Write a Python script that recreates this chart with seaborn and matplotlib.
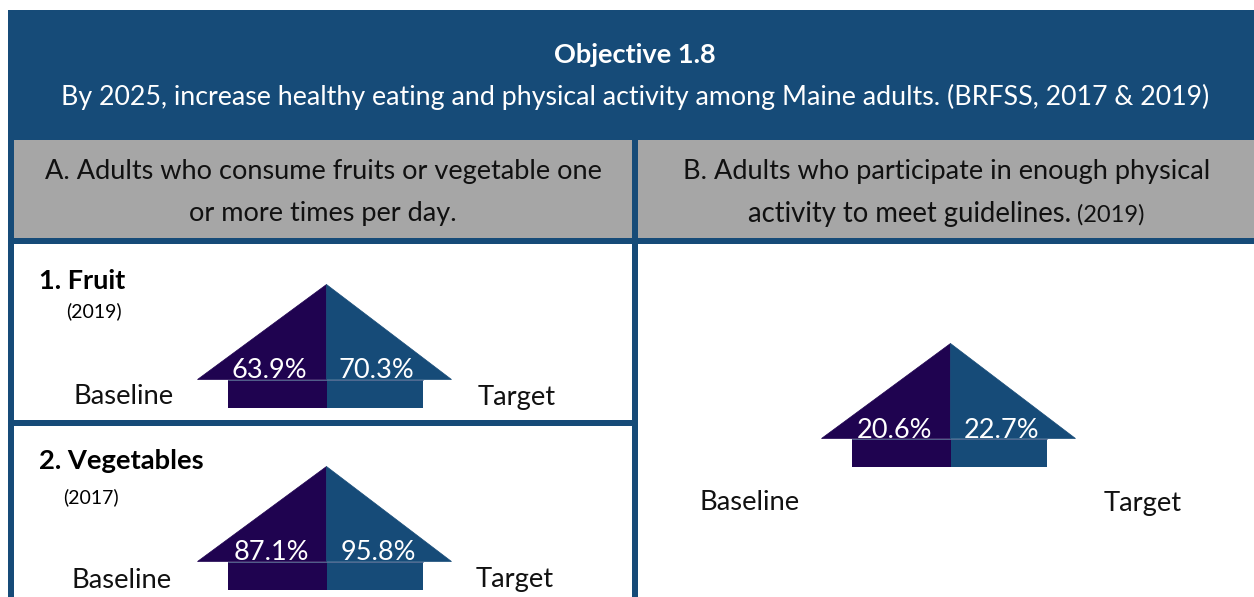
import matplotlib
matplotlib.use("Agg")
import matplotlib.pyplot as plt
from matplotlib.patches import Rectangle
import seaborn as sns

objective = "Objective 1.8"
subtitle = "By 2025, increase healthy eating and physical activity among Maine adults. (BRFSS, 2017 & 2019)"
panel_names = ["1. Fruit", "2. Vegetables"]
panel_years = ["(2019)", "(2017)"]
baseline_vals = [63.9, 87.1, 20.6]
target_vals = [70.3, 95.8, 22.7]

navy = "#164b78"
purple = "#1f0350"
gray = "#a6a6a6"
ink = "#111111"
big = 19.5

sns.set_theme(style="white")
plt.rcParams["font.family"] = ["Lato", "DejaVu Sans"]

fig, ax = plt.subplots(figsize=(12.54, 5.97), dpi=100)
ax.set_position([0, 0, 1, 1])
ax.set_xlim(0, 1254)
ax.set_ylim(597, 0)
ax.axis("off")


def box(x0, y0, x1, y1, color):
    ax.add_patch(Rectangle((x0, y0), x1 - x0, y1 - y0, color=color, lw=0))


def house(cx, top, base, base_val, targ_val, shift=0):
    # roof then body, left half purple, right half blue
    ax.fill([cx, cx, cx - 129], [top, base, base], color=purple, lw=0.5)
    ax.fill([cx, cx, cx + 125], [top, base, base], color=navy, lw=0.5)
    box(cx - 98, base + 1, cx + 1, base + 29, purple)
    box(cx + 1, base + 1, cx + 97, base + 29, navy)
    ax.plot([cx - 98, cx + 97], [base + 0.5, base + 0.5], color="#5a6f96", lw=0.6)
    ax.text(cx - 57 + shift, base - 8, f"{base_val}%", color="white", fontsize=big, ha="center", va="center")
    ax.text(cx + 50 + shift, base - 8, f"{targ_val}%", color="white", fontsize=big, ha="center", va="center")


# frame
box(8, 10, 1254, 597, navy)
box(14, 140, 632, 238, gray)
box(638, 140, 1254, 238, gray)
box(14, 244, 632, 420, "white")
box(14, 426, 632, 597, "white")
box(638, 244, 1254, 597, "white")

ax.text(635, 55, objective, color="white", fontsize=big, fontweight="bold", ha="center", va="center")
ax.text(635, 97, subtitle, color="white", fontsize=19.3, ha="center", va="center")

ax.text(323, 171, "A. Adults who consume fruits or vegetable one", color=ink, fontsize=big, ha="center", va="center")
ax.text(323, 214, "or more times per day.", color=ink, fontsize=big, ha="center", va="center")
ax.text(947, 171, "B. Adults who participate in enough physical", color=ink, fontsize=big, ha="center", va="center")
ax.text(748, 214, "activity to meet guidelines.", color=ink, fontsize=19.8, ha="left", va="center")
ax.text(1077, 215, "(2019)", color=ink, fontsize=17, ha="left", va="center")

ax.text(39, 281, panel_names[0], color="black", fontsize=big, fontweight="bold", ha="left", va="center")
ax.text(66, 311, panel_years[0], color="black", fontsize=14, ha="left", va="center")
ax.text(39, 461, panel_names[1], color="black", fontsize=19.7, fontweight="bold", ha="left", va="center")
ax.text(63, 497, panel_years[1], color="black", fontsize=14, ha="left", va="center")

house(326, 284, 379, baseline_vals[0], target_vals[0])
house(326, 466, 561, baseline_vals[1], target_vals[1], shift=2)
house(950, 343, 438, baseline_vals[2], target_vals[2], shift=2)

label_spots = [(74, 397, 478, 397), (72, 580, 476, 580), (700, 503, 1104, 503)]
for bx, by, tx, ty in label_spots:
    ax.text(bx, by, "Baseline", color=ink, fontsize=19.7, ha="left", va="center")
    ax.text(tx, ty, "Target", color=ink, fontsize=19.7, ha="left", va="center")

fig.savefig("out.png", dpi=100)
